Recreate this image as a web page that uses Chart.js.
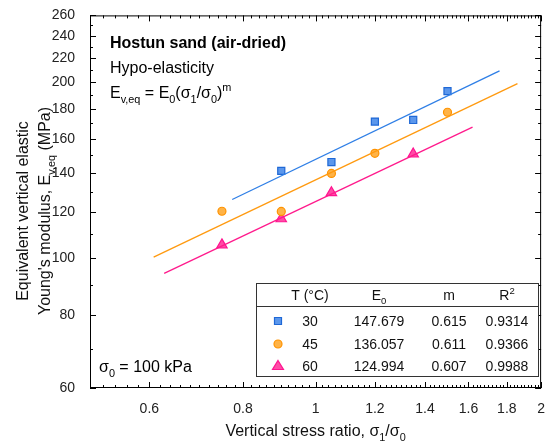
<!doctype html>
<html lang="en">
<head>
<meta charset="utf-8">
<title>Hostun sand</title>
<script src="https://cdn.jsdelivr.net/npm/chart.js@4.4.1/dist/chart.umd.min.js"></script>
<style>
	html, body { margin: 0; padding: 0; background: #fff; }
	#wrap { width: 550px; height: 441px; }
</style>
</head>
<body>
<div id="wrap"><canvas id="myChart" width="550" height="441"></canvas></div>
<script type="text/javascript">
// measured points
var ratio30 = [0.9, 1.05, 1.2, 1.35, 1.5];
var e30 = [141, 146, 171.2, 172.3, 193];
var ratio45 = [0.75, 0.9, 1.05, 1.2, 1.5];
var e45 = [120.3, 120.2, 139.6, 151.1, 177.6];
var ratio60 = [0.75, 0.9, 1.05, 1.35];
var e60 = [105.4, 116.8, 129.4, 150.7];

// fitted lines (end points)
var fitX30 = [0.774, 1.76], fitY30 = [126, 209];
var fitX45 = [0.608, 1.86], fitY45 = [100.4, 198.8];
var fitX60 = [0.628, 1.62], fitY60 = [94.2, 167.5];

// table
var temps = ['30', '45', '60'];
var e0Vals = ['147.679', '136.057', '124.994'];
var mVals = ['0.615', '0.611', '0.607'];
var r2Vals = ['0.9314', '0.9366', '0.9988'];

// ticks
var xMajor = [0.6, 0.8, 1, 1.2, 1.4, 1.6, 1.8, 2];
var yMajor = [60, 80, 100, 120, 140, 160, 180, 200, 220, 240, 260];

var blue = {line: '#2f7fe6', fill: '#5b97ec', border: '#1f68d6'};
var orange = {line: '#ff9a10', fill: '#ffb347', border: '#ff9300'};
var pink = {line: '#ff1a8c', fill: '#ff4ca6', border: '#ff1490'};

function pts(xs, ys) {
	return xs.map(function (x, i) { return {x: x, y: ys[i]}; });
}

var FONT = '"Liberation Sans", Arial, sans-serif';

// draw text pieces with sub/superscripts, returns width
function richText(ctx, parts, x, y, size, bold, measureOnly) {
	var cx = x;
	parts.forEach(function (p) {
		var s = size, dy = 0;
		if (p[1] == 'sub') { s = size * 0.68; dy = size * 0.3; }
		if (p[1] == 'sup') { s = size * 0.68; dy = -size * 0.42; }
		ctx.font = (bold ? 'bold ' : '') + s + 'px ' + FONT;
		if (!measureOnly) ctx.fillText(p[0], cx, y + dy);
		cx += ctx.measureText(p[0]).width;
	});
	return cx - x;
}

function marker(ctx, style, c, x, y) {
	ctx.save();
	ctx.fillStyle = c.fill;
	ctx.strokeStyle = c.border;
	ctx.lineWidth = 1.2;
	ctx.beginPath();
	if (style == 'rect') {
		ctx.rect(x - 3.5, y - 3.5, 7, 7);
	} else if (style == 'circle') {
		ctx.arc(x, y, 4, 0, Math.PI * 2);
	} else {
		ctx.moveTo(x, y - 5.5);
		ctx.lineTo(x + 5.5, y + 3.5);
		ctx.lineTo(x - 5.5, y + 3.5);
		ctx.closePath();
	}
	ctx.fill();
	ctx.stroke();
	ctx.restore();
}

var decor = {
	id: 'decor',
	afterDraw: function (chart) {
		var ctx = chart.ctx;
		var a = chart.chartArea;
		var xs = chart.scales.x, ys = chart.scales.y;
		ctx.save();
		ctx.strokeStyle = '#000';
		ctx.lineWidth = 1;
		ctx.strokeRect(a.left + 0.5, a.top + 0.5, a.right - a.left - 1, a.bottom - a.top - 1);

		// inward ticks on all four sides
		ctx.beginPath();
		for (var i = 50; i <= 200; i += 2) {
			var v = i / 100;
			var px = Math.round(xs.getPixelForValue(v)) + 0.5;
			var major = xMajor.some(function (m) { return Math.abs(m - v) < 1e-6; });
			var len = major ? 6 : 3;
			ctx.moveTo(px, a.bottom); ctx.lineTo(px, a.bottom - len);
			ctx.moveTo(px, a.top); ctx.lineTo(px, a.top + len);
		}
		for (var j = 60; j <= 260; j += 10) {
			var py = Math.round(ys.getPixelForValue(j)) + 0.5;
			var len2 = (j % 20 == 0) ? 6 : 3;
			ctx.moveTo(a.left, py); ctx.lineTo(a.left + len2, py);
			ctx.moveTo(a.right, py); ctx.lineTo(a.right - len2, py);
		}
		ctx.stroke();

		// annotations
		ctx.fillStyle = '#000';
		ctx.textBaseline = 'alphabetic';
		ctx.textAlign = 'left';
		richText(ctx, [['Hostun sand (air-dried)', 'n']], 110, 48, 16, true);
		richText(ctx, [['Hypo-elasticity', 'n']], 110, 73, 16, false);
		richText(ctx, [['E', 'n'], ['v,eq', 'sub'], [' = E', 'n'], ['0', 'sub'], ['(\u03c3', 'n'], ['1', 'sub'],
			['/\u03c3', 'n'], ['0', 'sub'], [')', 'n'], ['m', 'sup']], 110, 98, 16, false);
		richText(ctx, [['\u03c3', 'n'], ['0', 'sub'], [' = 100 kPa', 'n']], 99, 372, 16, false);

		// table
		var tl = 256, tr = 538, tt = 283, tb = 376;
		ctx.fillStyle = '#fff';
		ctx.fillRect(tl, tt, tr - tl, tb - tt);
		ctx.strokeStyle = '#333';
		ctx.strokeRect(tl + 0.5, tt + 0.5, tr - tl, tb - tt);
		ctx.beginPath();
		ctx.moveTo(tl, 306.5); ctx.lineTo(tr, 306.5);
		ctx.stroke();
		ctx.fillStyle = '#111';
		var cols = [310, 379, 449, 507];
		function centered(parts, cx, y, size) {
			var w = richText(ctx, parts, 0, 0, size, false, true);
			richText(ctx, parts, cx - w / 2, y, size, false);
		}
		centered([['T (\u00b0C)', 'n']], cols[0], 300, 14);
		centered([['E', 'n'], ['0', 'sub']], cols[1], 300, 14);
		centered([['m', 'n']], cols[2], 300, 14);
		centered([['R', 'n'], ['2', 'sup']], cols[3], 300, 14);
		var rows = [326, 349, 371];
		var styles = ['rect', 'circle', 'triangle'];
		var colors = [blue, orange, pink];
		for (var r = 0; r < 3; r++) {
			marker(ctx, styles[r], colors[r], 278, rows[r] - 5);
			ctx.fillStyle = '#111';
			centered([[temps[r], 'n']], cols[0], rows[r], 14);
			centered([[e0Vals[r], 'n']], cols[1], rows[r], 14);
			centered([[mVals[r], 'n']], cols[2], rows[r], 14);
			centered([[r2Vals[r], 'n']], cols[3], rows[r], 14);
		}

		// axis titles
		ctx.fillStyle = '#111';
		var xt = [['Vertical stress ratio, \u03c3', 'n'], ['1', 'sub'], ['/\u03c3', 'n'], ['0', 'sub']];
		var wx = richText(ctx, xt, 0, 0, 16, false, true);
		richText(ctx, xt, (a.left + a.right) / 2 - wx / 2, 436, 16, false);

		var l1 = [['Equivalent vertical elastic', 'n']];
		var l2 = [["Young's modulus, E", 'n'], ['v,eq', 'sub'], [' (MPa)', 'n']];
		var cy = 211;
		ctx.save();
		ctx.translate(28, cy);
		ctx.rotate(-Math.PI / 2);
		var w1 = richText(ctx, l1, 0, 0, 16, false, true);
		richText(ctx, l1, -w1 / 2, 0, 16, false);
		ctx.restore();
		ctx.save();
		ctx.translate(50, cy);
		ctx.rotate(-Math.PI / 2);
		var w2 = richText(ctx, l2, 0, 0, 16, false, true);
		richText(ctx, l2, -w2 / 2, 0, 16, false);
		ctx.restore();

		ctx.restore();
	}
};

var ctx = document.getElementById('myChart').getContext('2d');
var chart = new Chart(ctx, {
	type: 'scatter',
	data: {
		datasets: [
			{data: pts(fitX30, fitY30), showLine: true, borderColor: blue.line, borderWidth: 1.3, pointRadius: 0},
			{data: pts(fitX45, fitY45), showLine: true, borderColor: orange.line, borderWidth: 1.3, pointRadius: 0},
			{data: pts(fitX60, fitY60), showLine: true, borderColor: pink.line, borderWidth: 1.3, pointRadius: 0},
			{data: pts(ratio30, e30), pointStyle: 'rect', pointRadius: 5, backgroundColor: blue.fill, borderColor: blue.border, borderWidth: 1.2},
			{data: pts(ratio45, e45), pointStyle: 'circle', pointRadius: 4, backgroundColor: orange.fill, borderColor: orange.border, borderWidth: 1.2},
			{data: pts(ratio60, e60), pointStyle: 'triangle', pointRadius: 6, backgroundColor: pink.fill, borderColor: pink.border, borderWidth: 1.2}
		]
	},
	options: {
		responsive: false,
		animation: false,
		events: [],
		layout: {padding: {top: 15, right: 0, left: 0, bottom: 0}},
		plugins: {legend: {display: false}, tooltip: {enabled: false}},
		scales: {
			x: {
				type: 'logarithmic', min: 0.5, max: 2,
				grid: {display: false},
				border: {display: false},
				afterBuildTicks: function (s) { s.ticks = xMajor.map(function (v) { return {value: v}; }); },
				afterFit: function (s) { s.height = 53; },
				ticks: {
					color: '#222', padding: 5, maxRotation: 0, autoSkip: false,
					font: {family: FONT, size: 14},
					callback: function (v) { return String(v); }
				}
			},
			y: {
				type: 'logarithmic', min: 60, max: 260,
				grid: {display: false},
				border: {display: false},
				afterBuildTicks: function (s) { s.ticks = yMajor.map(function (v) { return {value: v}; }); },
				afterFit: function (s) { s.width = 90; },
				ticks: {
					color: '#222', padding: 7, autoSkip: false,
					font: {family: FONT, size: 14},
					callback: function (v) { return String(v); }
				}
			}
		}
	},
	plugins: [decor]
});
</script>
</body>
</html>
